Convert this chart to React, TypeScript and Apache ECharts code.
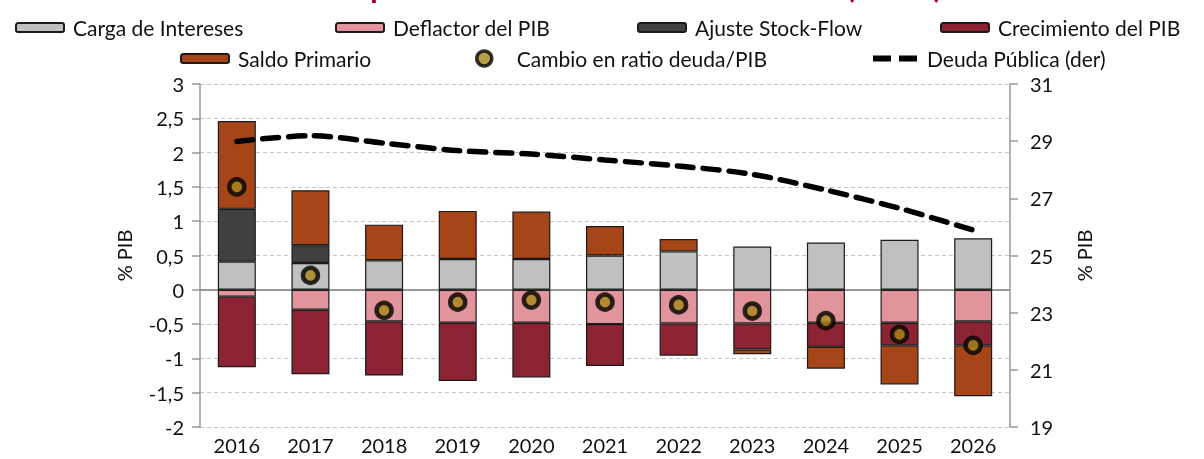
import React, { useEffect, useRef } from "react";
import * as echarts from "echarts";

const categories = ["2016", "2017", "2018", "2019", "2020", "2021", "2022", "2023", "2024", "2025", "2026"];
const cargaIntereses = [0.41, 0.39, 0.43, 0.45, 0.45, 0.5, 0.56, 0.63, 0.69, 0.73, 0.75];
const deflactor = [-0.1, -0.29, -0.46, -0.48, -0.48, -0.5, -0.49, -0.49, -0.48, -0.48, -0.46];
const ajusteStockFlow = [0.77, 0.26, null, null, null, null, null, null, null, null, null];
const crecimiento = [-1.03, -0.94, -0.79, -0.85, -0.8, -0.61, -0.47, -0.38, -0.35, -0.33, -0.35];
const saldoPrimario = [1.28, 0.8, 0.52, 0.7, 0.69, 0.43, 0.18, -0.07, -0.32, -0.57, -0.74];
const cambioRatio = [1.5, 0.21, -0.3, -0.18, -0.15, -0.18, -0.22, -0.31, -0.45, -0.65, -0.81];
const deudaPublica = [28.99, 29.19, 28.93, 28.67, 28.55, 28.34, 28.13, 27.84, 27.29, 26.65, 25.89];

const leftTicks = { min: -2, max: 3, interval: 0.5 };
const rightTicks = { min: 19, max: 31, interval: 2 };

const names = {
  carga: "Carga de Intereses",
  defl: "Deflactor del PIB",
  ajuste: "Ajuste Stock-Flow",
  crec: "Crecimiento del PIB",
  saldo: "Saldo Primario",
  cambio: "Cambio en ratio deuda/PIB",
  deuda: "Deuda Pública (der)",
};

const FONT = "Lato";
const FS = 20;

export default function App() {
  const ref = useRef<HTMLDivElement>(null);
  useEffect(() => {
    if (!ref.current) return;
    const chart = echarts.init(ref.current, null, { renderer: "svg" });
    const txt = { color: "#111", fontSize: FS + 1, fontFamily: FONT, padding: [0, 0, 0, 4] };
    const mkLegend = (item: any, left: number, top: number, extra: any = {}) => ({
      data: [item],
      left,
      top,
      itemWidth: 48,
      itemHeight: 9,
      textStyle: txt,
      selectedMode: false,
      ...extra,
    });
    const barBase = {
      type: "bar",
      stack: "total",
      barWidth: 38,
      itemStyle: { borderColor: "#1a1a1a", borderWidth: 1.2 },
    };
    chart.setOption({
      animation: false,
      textStyle: { fontFamily: FONT },
      title: {
        text: "Descomposición de la variación de la deuda (% PIB)",
        left: "center",
        top: -34,
        textStyle: { color: "#A50021", fontSize: 30, fontWeight: "bold", fontFamily: FONT },
      },
      legend: [
        mkLegend(names.carga, 10, 12),
        mkLegend(names.defl, 330, 12),
        mkLegend(names.ajuste, 632, 12),
        mkLegend(names.crec, 935, 12),
        mkLegend(names.saldo, 175, 43),
        mkLegend(
          {
            name: names.cambio,
            itemStyle: { color: "#A8861A", borderColor: "#000", borderWidth: 3.5 },
          },
          470,
          43,
          {
            itemWidth: 15,
            itemHeight: 15,
            textStyle: { ...txt, padding: [0, 0, 0, 20] },
          }
        ),
        mkLegend(
          { name: names.deuda, icon: "path://M0,0H18V6H0Z M26,0H44V6H26Z", itemStyle: { color: "#000" } },
          868,
          43,
          { itemWidth: 46, itemHeight: 6 }
        ),
      ],
      grid: { left: 200, right: 194, top: 84, bottom: 32, containLabel: false },
      xAxis: {
        type: "category",
        data: categories,
        axisLine: { show: false },
        axisTick: { show: false },
        axisLabel: { color: "#111", fontSize: FS, fontFamily: FONT, margin: 8 },
      },
      yAxis: [
        {
          type: "value",
          ...leftTicks,
          position: "left",
          name: "% PIB",
          nameLocation: "middle",
          nameRotate: 90,
          nameGap: 66,
          nameTextStyle: { color: "#111", fontSize: FS, fontFamily: FONT },
          axisLine: { show: true, lineStyle: { color: "#999", width: 1.5 } },
          axisTick: { show: true, length: 8, lineStyle: { color: "#999", width: 1.5 } },
          axisLabel: {
            color: "#111",
            fontSize: FS,
            fontFamily: FONT,
            margin: 16,
            formatter: (v: number) => String(v).replace(".", ","),
          },
          splitLine: { show: true, lineStyle: { color: "#c4c4c4", type: [4, 3], width: 1 } },
        },
        {
          type: "value",
          ...rightTicks,
          position: "right",
          name: "% PIB",
          nameLocation: "middle",
          nameRotate: 90,
          nameGap: 64,
          nameTextStyle: { color: "#111", fontSize: FS, fontFamily: FONT },
          axisLine: { show: true, lineStyle: { color: "#999", width: 1.5 } },
          axisTick: { show: true, length: 8, lineStyle: { color: "#999", width: 1.5 } },
          axisLabel: { color: "#111", fontSize: FS, fontFamily: FONT, margin: 20 },
          splitLine: { show: false },
        },
      ],
      series: [
        {
          ...barBase,
          name: names.carga,
          data: cargaIntereses,
          itemStyle: { ...barBase.itemStyle, color: "#C0C0C0" },
          markLine: {
            silent: true,
            symbol: "none",
            label: { show: false },
            lineStyle: { color: "#999", width: 2, type: "solid" },
            data: [{ yAxis: 0 }],
            z: 1,
          },
        },
        { ...barBase, name: names.defl, data: deflactor, itemStyle: { ...barBase.itemStyle, color: "#E2949D" } },
        { ...barBase, name: names.ajuste, data: ajusteStockFlow, itemStyle: { ...barBase.itemStyle, color: "#404040" } },
        { ...barBase, name: names.crec, data: crecimiento, itemStyle: { ...barBase.itemStyle, color: "#8B2332" } },
        { ...barBase, name: names.saldo, data: saldoPrimario, itemStyle: { ...barBase.itemStyle, color: "#A64618" } },
        {
          type: "scatter",
          name: names.cambio,
          data: cambioRatio,
          symbol: "circle",
          symbolSize: 15,
          z: 5,
          itemStyle: { color: "#A8861A", borderColor: "#000", borderWidth: 4.5 },
        },
        {
          type: "line",
          name: names.deuda,
          yAxisIndex: 1,
          data: deudaPublica,
          smooth: 0.3,
          symbol: "none",
          z: 6,
          lineStyle: { color: "#000", width: 5.5, type: [16, 10], cap: "round" },
          itemStyle: { color: "#000" },
        },
      ],
    });
    return () => chart.dispose();
  }, []);
  return (
    <div
      ref={ref}
      style={{ position: "fixed", left: 0, top: 0, width: 1204, height: 459 }}
    />
  );
}
